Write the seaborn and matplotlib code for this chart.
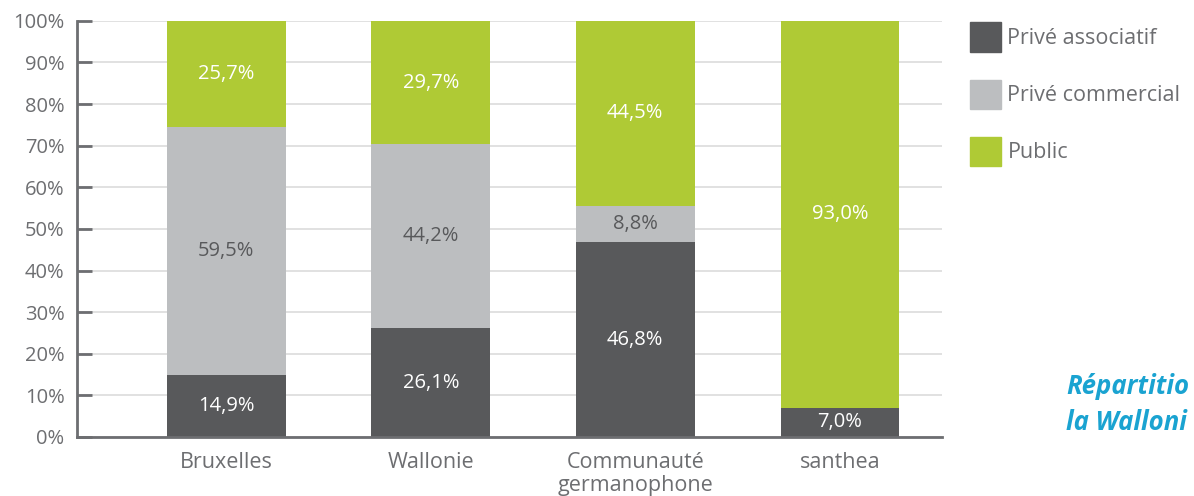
import numpy as np
import pandas as pd
import matplotlib
matplotlib.use('Agg')
import matplotlib.pyplot as plt
import seaborn as sns
from matplotlib.patches import Patch

# data
categories = ['Bruxelles', 'Wallonie', 'Communauté\ngermanophone', 'santhea']
prive_associatif = [14.9, 26.1, 46.8, 7.0]
prive_commercial = [59.5, 44.2, 8.8, 0.0]
public = [25.7, 29.7, 44.5, 93.0]
series_names = ['Privé associatif', 'Privé commercial', 'Public']
side_title = ['Répartitio', 'la Walloni']  # cut off at the right edge in the source

dark = '#58595b'
light = '#bcbec0'
green = '#afca35'
axis_grey = '#6d6e71'

sns.set_style('white')
plt.rcParams['font.family'] = ['Open Sans', 'DejaVu Sans']

df = pd.DataFrame({'cat': categories, 'a': prive_associatif,
                   'c': prive_commercial, 'p': public})
df['cum_a'] = df['a']
df['cum_c'] = df['a'] + df['c']
df['cum_p'] = df['a'] + df['c'] + df['p']

fig = plt.figure(figsize=(11.94, 4.96), dpi=100)
ax = fig.add_axes([0.0645, 0.119, 0.7245, 0.839])

# stacked bars: draw tallest first
for col, c in [('cum_p', green), ('cum_c', light), ('cum_a', dark)]:
    sns.barplot(data=df, x='cat', y=col, color=c, width=0.58, ax=ax,
                saturation=1, linewidth=0, zorder=2)

# labels
for i, row in df.iterrows():
    segs = [(0, row['a'], 'white'),
            (row['cum_a'], row['c'], dark),
            (row['cum_c'], row['p'], 'white')]
    for base, val, col in segs:
        if val <= 0:
            continue
        mid = min(base + val / 2, (base + 100) / 2)
        ax.text(i, mid, f'{val:.1f}%'.replace('.', ','), ha='center',
                va='center', color=col, fontsize=14.5, zorder=3)

ax.set_ylim(0, 100)
ax.set_xlim(-0.73, 3.5)
ax.set_yticks(np.arange(0, 101, 10))
ax.set_yticklabels([f'{v}%' for v in range(0, 101, 10)])
ax.set_xlabel('')
ax.set_ylabel('')
ax.yaxis.grid(True, color='#dcdcdc', linewidth=1.2, zorder=0)
ax.set_axisbelow(True)

for s in ['top', 'right']:
    ax.spines[s].set_visible(False)
for s in ['left', 'bottom']:
    ax.spines[s].set_color(axis_grey)
    ax.spines[s].set_linewidth(2)

ax.tick_params(axis='y', direction='in', length=11, width=2, color=axis_grey,
               labelcolor=axis_grey, labelsize=14.5, pad=9, left=True)
ax.tick_params(axis='x', length=0, labelcolor=axis_grey, labelsize=15.5, pad=11)
for lab in ax.get_xticklabels():
    lab.set_linespacing(1.1)

handles = [Patch(color=dark), Patch(color=light), Patch(color=green)]
fig.legend(handles, series_names, loc='upper left',
           bbox_to_anchor=(0.805, 0.972), frameon=False, fontsize=15.5,
           handlelength=1.45, handleheight=1.7, handletextpad=0.3,
           labelspacing=1.3, labelcolor=axis_grey, borderaxespad=0)

fig.text(0.893, 0.205, side_title[0], color='#1aa3d1', fontsize=18.5,
         fontweight='bold', style='italic')
fig.text(0.893, 0.133, side_title[1], color='#1aa3d1', fontsize=18.5,
         fontweight='bold', style='italic')

fig.savefig('out.png', dpi=100)
